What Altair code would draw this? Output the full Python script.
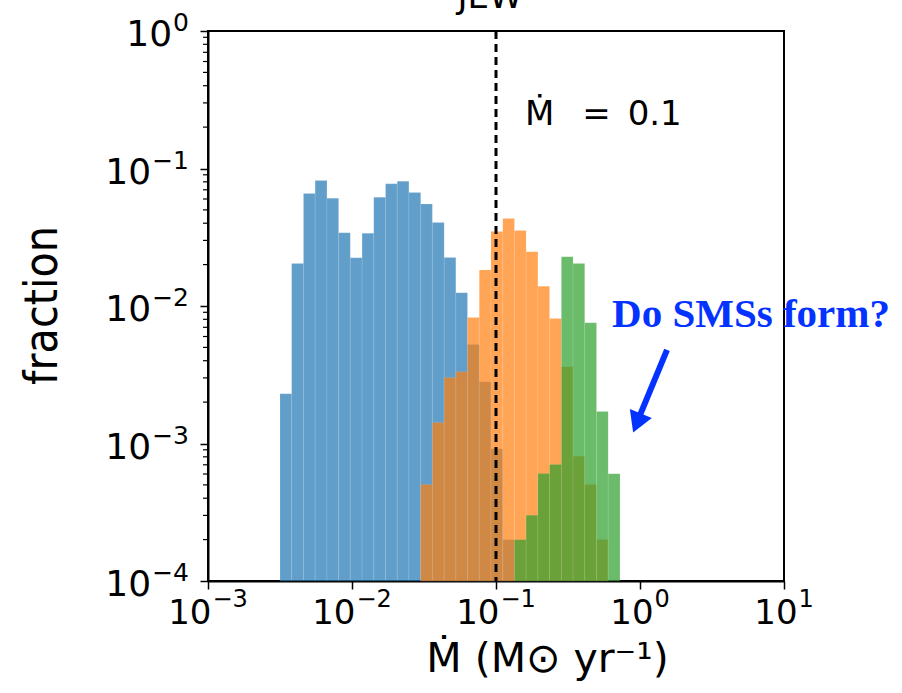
import altair as alt
import pandas as pd

# ---- histogram data (log10 bin edges shared by all series) ----
bin_edges_log = [-2.500, -2.419, -2.337, -2.256, -2.174, -2.093, -2.012, -1.930,
                 -1.849, -1.767, -1.686, -1.605, -1.523, -1.442, -1.360, -1.279,
                 -1.198, -1.116, -1.035, -0.953, -0.872, -0.791, -0.709, -0.628,
                 -0.546, -0.465, -0.384, -0.302, -0.221, -0.139]

blue_start = 0
blue_frac = [0.0023, 0.0204, 0.0658, 0.0818, 0.0608, 0.0341, 0.0224, 0.0338,
             0.0618, 0.0774, 0.0808, 0.0669, 0.0552, 0.0405, 0.0225, 0.0125,
             0.00525, 0.00281, 0.000915, 0.000200]

orange_start = 12
orange_frac = [0.000503, 0.00142, 0.00302, 0.00332, 0.00825, 0.0183, 0.0348,
               0.0433, 0.0354, 0.0248, 0.0139, 0.0081, 0.00361, 0.000809,
               0.000503, 0.000200]

green_start = 20
green_frac = [0.000200, 0.000301, 0.000605, 0.000703, 0.0228, 0.0204, 0.00755,
              0.00171, 0.000602]

series_names = ["blue", "orange", "green"]
series_colors = ["#1f77b4", "#ff7f0e", "#2ca02c"]

x_tick_values = [1e-3, 1e-2, 1e-1, 1e0, 1e1]
x_tick_exps = ["−3", "−2", "−1", "0", "1"]
y_tick_values = [1e-4, 1e-3, 1e-2, 1e-1, 1e0]
y_tick_exps = ["−4", "−3", "−2", "−1", "0"]
y_minor_ticks = [m * d for d in [1e-4, 1e-3, 1e-2, 1e-1] for m in range(2, 10)]

threshold = 0.1
threshold_label = "Ṁ \u2002=\u20020.1"
label_pos = [0.159, 0.207]
question = "Do SMSs form?"
question_pos = [0.64, 0.00707]
arrow_start = [1.54, 0.00479]
arrow_end = [1.0, 0.00161]
arrow_head = [0.953, 0.00141]
title_text = "JEW"
title_pos = [0.091, 1.47]

# ---- build table ----
rows = []
for name, start, vals in [("blue", blue_start, blue_frac),
                          ("orange", orange_start, orange_frac),
                          ("green", green_start, green_frac)]:
    for i, v in enumerate(vals):
        k = start + i
        rows.append({"series": name,
                     "lo": 10 ** bin_edges_log[k],
                     "hi": 10 ** bin_edges_log[k + 1],
                     "frac": v,
                     "base": 1e-4})
hist = pd.DataFrame(rows)

xscale = alt.Scale(type="log", domain=[1e-3, 1e1], nice=False)
yscale = alt.Scale(type="log", domain=[1e-4, 1e0], nice=False)

FONT = "DejaVu Sans"
ADV = {"−": 0.838, "0": 0.636, "1": 0.636, "2": 0.636, "3": 0.636, "4": 0.636}


def text_width(s, size):
    return sum(ADV.get(c, 0.6) for c in s) * size


bars = alt.Chart(hist).mark_rect(
    opacity=0.7, stroke="white", strokeOpacity=0.2, strokeWidth=0.6
).encode(
    x=alt.X("lo:Q", scale=xscale,
            axis=alt.Axis(values=x_tick_values, labels=False,
                          title="Ṁ (M⊙ yr⁻¹)",
                          titleFont=FONT, titleFontSize=41, titleFontWeight="normal",
                          titleX=339, titleY=90, titleAnchor="start",
                          titleAlign="center", titleBaseline="alphabetic",
                          tickSize=8, tickWidth=1.5, tickColor="black",
                          domainColor="black", domainWidth=2, grid=False)),
    x2="hi:Q",
    y=alt.Y("frac:Q", scale=yscale,
            axis=alt.Axis(values=y_tick_values, labels=False,
                          title="fraction",
                          titleFont="DejaVu Sans Condensed", titleFontSize=46,
                          titleFontWeight="normal", titleAngle=270,
                          titleX=-152, titleY=274, titleAlign="center",
                          titleBaseline="alphabetic",
                          tickSize=8, tickWidth=1.5, tickColor="black",
                          domainColor="black", domainWidth=2, grid=False)),
    y2="base:Q",
    color=alt.Color("series:N", scale=alt.Scale(domain=series_names, range=series_colors),
                    legend=None),
)

layers = [bars]

# y-axis minor ticks
layers.append(alt.Chart(pd.DataFrame({"v": y_minor_ticks})).mark_rule(
    color="black", strokeWidth=1.2
).encode(y=alt.Y("v:Q", scale=yscale), x=alt.value(0), x2=alt.value(-5)))

# y tick labels: "10" + raised exponent
SY, EY, PADY = 36, 25, 19
for v, e in zip(y_tick_values, y_tick_exps):
    ew = text_width(e, EY)
    df = pd.DataFrame({"v": [v], "b": ["10"], "e": [e]})
    layers.append(alt.Chart(df).mark_text(
        font=FONT, fontSize=SY, align="right", baseline="alphabetic", color="black",
        dx=-(PADY + ew + 1), dy=15
    ).encode(y=alt.Y("v:Q", scale=yscale), x=alt.value(0), text="b:N"))
    layers.append(alt.Chart(df).mark_text(
        font=FONT, fontSize=EY, align="right", baseline="alphabetic", color="black",
        dx=-PADY, dy=0
    ).encode(y=alt.Y("v:Q", scale=yscale), x=alt.value(0), text="e:N"))

# x tick labels
SX, EX = 34, 24
for v, e in zip(x_tick_values, x_tick_exps):
    bw = text_width("10", SX)
    ew = text_width(e, EX)
    total = bw + ew + 1
    df = pd.DataFrame({"v": [v], "bot": [1e-4], "b": ["10"], "e": [e]})
    layers.append(alt.Chart(df).mark_text(
        font=FONT, fontSize=SX, align="left", baseline="alphabetic", color="black",
        dx=-total / 2, dy=43
    ).encode(x=alt.X("v:Q", scale=xscale), y=alt.Y("bot:Q", scale=yscale), text="b:N"))
    layers.append(alt.Chart(df).mark_text(
        font=FONT, fontSize=EX, align="left", baseline="alphabetic", color="black",
        dx=-total / 2 + bw + 1, dy=26
    ).encode(x=alt.X("v:Q", scale=xscale), y=alt.Y("bot:Q", scale=yscale), text="e:N"))

# threshold line and label
layers.append(alt.Chart(pd.DataFrame({"x": [threshold], "top": [1.0], "bot": [1e-4]})).mark_rule(
    color="black", strokeWidth=3, strokeDash=[8, 5]
).encode(x=alt.X("x:Q", scale=xscale), y=alt.Y("top:Q", scale=yscale), y2="bot:Q"))

layers.append(alt.Chart(pd.DataFrame({"x": [label_pos[0]], "y": [label_pos[1]], "t": [threshold_label]})).mark_text(
    font=FONT, fontSize=34, align="left", baseline="alphabetic", color="black"
).encode(x=alt.X("x:Q", scale=xscale), y=alt.Y("y:Q", scale=yscale), text="t:N"))

# clipped title at the top
layers.append(alt.Chart(pd.DataFrame({"x": [title_pos[0]], "y": [title_pos[1]], "t": [title_text]})).mark_text(
    font=FONT, fontSize=34, align="center", baseline="alphabetic", color="black"
).encode(x=alt.X("x:Q", scale=xscale), y=alt.Y("y:Q", scale=yscale), text="t:N"))

# annotation
layers.append(alt.Chart(pd.DataFrame({"x": [question_pos[0]], "y": [question_pos[1]], "t": [question]})).mark_text(
    font="Liberation Serif", fontSize=41, fontWeight="bold", align="left",
    baseline="alphabetic", color="#0433ff"
).encode(x=alt.X("x:Q", scale=xscale), y=alt.Y("y:Q", scale=yscale), text="t:N"))

layers.append(alt.Chart(pd.DataFrame({"x": [arrow_start[0]], "y": [arrow_start[1]],
                                      "x2": [arrow_end[0]], "y2": [arrow_end[1]]})).mark_rule(
    color="#0433ff", strokeWidth=6
).encode(x=alt.X("x:Q", scale=xscale), y=alt.Y("y:Q", scale=yscale), x2="x2:Q", y2="y2:Q"))

layers.append(alt.Chart(pd.DataFrame({"x": [arrow_head[0]], "y": [arrow_head[1]]})).mark_point(
    shape="triangle-up", filled=True, color="#0433ff", opacity=1, size=560, angle=202
).encode(x=alt.X("x:Q", scale=xscale), y=alt.Y("y:Q", scale=yscale)))

chart = alt.layer(*layers).properties(
    width=576, height=550,
    autosize=alt.AutoSizeParams(type="none"),
    padding={"left": 208, "top": 31, "right": 118, "bottom": 112},
).configure_view(stroke="black", strokeWidth=2)

chart.save("out.html", embed_options={"renderer": "svg", "actions": False})
